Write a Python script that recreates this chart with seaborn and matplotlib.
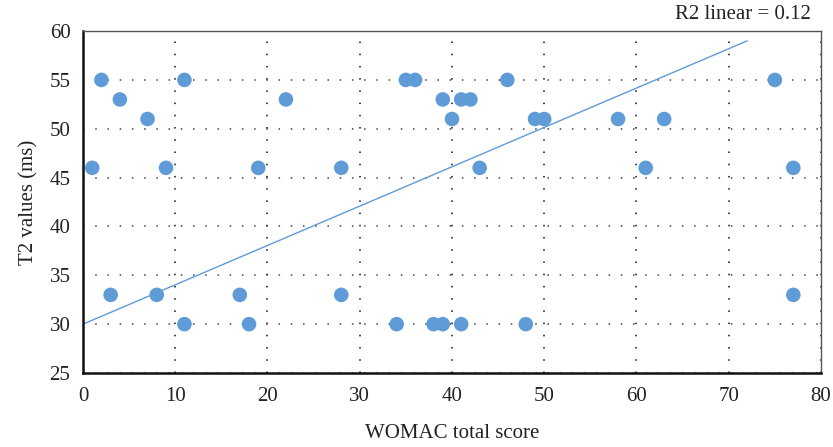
import matplotlib
matplotlib.use("Agg")
import matplotlib.pyplot as plt
import seaborn as sns
import pandas as pd

womac = [1, 2, 3, 4, 7, 8, 9, 11, 11, 17, 18, 19, 22, 28, 28, 34, 35, 36, 38, 39,
         39, 40, 41, 41, 42, 43, 46, 48, 49, 50, 58, 61, 63, 75, 77, 77]
t2 = [46, 55, 33, 53, 51, 33, 46, 55, 30, 33, 30, 46, 53, 46, 33, 30, 55, 55, 30, 30,
      53, 51, 53, 30, 53, 46, 55, 30, 51, 51, 51, 46, 51, 55, 46, 33]
fit_x = [0, 72]
fit_y = [30, 59]
x_ticks = [0, 10, 20, 30, 40, 50, 60, 70, 80]
y_ticks = [25, 30, 35, 40, 45, 50, 55, 60]

sns.set_theme(style="white")
plt.rcParams['font.family'] = ['Liberation Serif', 'DejaVu Serif']

df = pd.DataFrame({"WOMAC": womac, "T2": t2})
fig = plt.figure(figsize=(8.33, 4.47), dpi=100)
ax = fig.add_axes([0.0996, 0.1655, 0.886, 0.765])

color = "#5f9bd6"
sns.lineplot(x=fit_x, y=fit_y, ax=ax, color=color, linewidth=1.0, zorder=2)
sns.scatterplot(data=df, x="WOMAC", y="T2", ax=ax, color=color, s=110,
                edgecolor="none", zorder=3)

ax.set_xlim(0, 80)
ax.set_ylim(25, 60)
ax.set_xticks(x_ticks)
ax.set_yticks(y_ticks)
ax.tick_params(axis="both", labelsize=15, colors="#222222", length=0)
ax.tick_params(axis="x", pad=10)
ax.tick_params(axis="y", pad=9)

ax.xaxis.grid(True, linestyle=(0, (1, 7)), color="#111111", linewidth=1.1)
ax.yaxis.grid(True, linestyle=(0, (1, 7)), color="#444444", linewidth=1.1)
ax.set_axisbelow(True)

for side in ["left", "bottom"]:
    ax.spines[side].set_color("#111111")
    ax.spines[side].set_linewidth(1.8)
for side in ["top", "right"]:
    ax.spines[side].set_color("#555555")
    ax.spines[side].set_linewidth(1.0)
    ax.spines[side].set_visible(True)

ax.set_xlabel("WOMAC total score", fontsize=15, color="#222222", labelpad=13)
ax.set_ylabel("T2 values (ms)", fontsize=15, color="#222222", labelpad=8)

fig.text(0.973, 0.968, "R2 linear = 0.12", ha="right", va="center",
         fontsize=15, color="#222222")

fig.savefig("out.png", dpi=100)
